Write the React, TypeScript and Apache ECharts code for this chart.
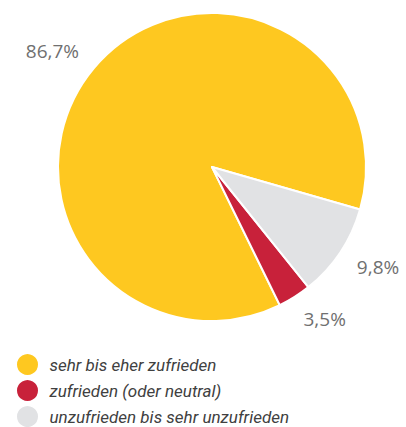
import React, { useEffect, useRef } from "react";
import * as echarts from "echarts";

const categories = ["sehr bis eher zufrieden", "zufrieden (oder neutral)", "unzufrieden bis sehr unzufrieden"];
const values = [86.7, 3.5, 9.8];
const labels = ["86,7%", "3,5%", "9,8%"];
const colors = ["#FEC820", "#C8213A", "#E1E2E4"];

export default function App() {
  const ref = useRef<HTMLDivElement>(null);
  useEffect(() => {
    if (!ref.current) return;
    const chart = echarts.init(ref.current, null, { renderer: "svg" });
    chart.setOption({
      animation: false,
      backgroundColor: "#ffffff",
      legend: categories.map((name, i) => ({
        orient: "vertical",
        left: 15,
        top: 352 + i * 26,
        padding: 0,
        icon: "circle",
        itemWidth: 34,
        itemHeight: 23,
        selectedMode: false,
        data: [name],
        textStyle: {
          fontFamily: "Roboto",
          fontStyle: "italic",
          fontSize: 17,
          color: "#404040",
        },
      })),
      series: [
        {
          type: "pie",
          center: [212, 167],
          radius: 154,
          startAngle: 344,
          clockwise: false,
          avoidLabelOverlap: false,
          itemStyle: { borderColor: "#ffffff", borderWidth: 2 },
          label: {
            show: true,
            position: "outside",
            fontFamily: "Open Sans",
            fontSize: 19,
            color: "#707070",
            distanceToLabelLine: -5,
            formatter: (p: any) => labels[p.dataIndex],
          },
          labelLine: { show: false, length: 26, length2: 0 },
          emphasis: { disabled: true },
          data: categories.map((name, i) => ({
            name,
            value: values[i],
            itemStyle: { color: colors[i] },
          })),
        },
      ],
    });
    return () => chart.dispose();
  }, []);
  return (
    <div
      ref={ref}
      style={{ position: "absolute", left: 0, top: 0, width: 406, height: 427 }}
    />
  );
}
